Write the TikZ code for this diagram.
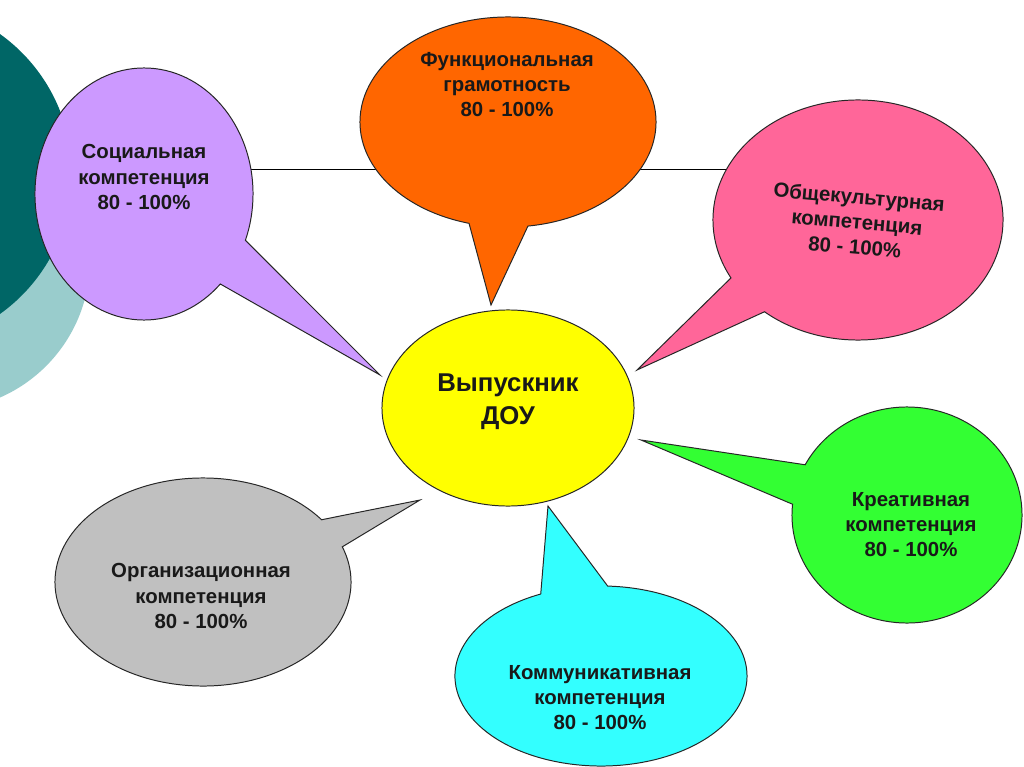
\documentclass[tikz,border=0pt]{standalone}
\usepackage{fontspec}
\setmainfont{Liberation Sans}
\usetikzlibrary{shapes.geometric,shapes.callouts,backgrounds}

\definecolor{tealdark}{HTML}{006666}
\definecolor{teallight}{HTML}{99CCCC}
\definecolor{lilac}{HTML}{CC99FF}
\definecolor{orangeb}{HTML}{FF6600}
\definecolor{pinkb}{HTML}{FF6699}
\definecolor{yellowb}{HTML}{FFFF00}
\definecolor{greenb}{HTML}{33FF33}
\definecolor{cyanb}{HTML}{33FFFF}
\definecolor{grayb}{HTML}{C0C0C0}

\begin{document}
\begin{tikzpicture}[x=0.025cm, y=-0.025cm, line width=0.7pt,
  balloon/.style={ellipse callout, draw=black!85, inner sep=0pt},
  lbl/.style={align=center, text=black!90, font=\bfseries\fontsize{14.5}{17.8}\selectfont}]

\useasboundingbox (0,0) rectangle (1024,767);

% Centre: the graduate
\node[ellipse, draw=black!85, fill=yellowb, inner sep=0pt,
      minimum width=6.3cm, minimum height=4.9cm] (vyp) at (508,408) {};
\node[lbl, font=\bfseries\fontsize{18.3}{23.5}\selectfont] (vyp-t) at (508,402) {Выпускник\\ДОУ};

% Pointer tips near the centre
\coordinate (p-soc) at (380,375);
\coordinate (p-fun) at (491,305);
\coordinate (p-obs) at (637,370);
\coordinate (p-kre) at (641,440);
\coordinate (p-kom) at (548,506);
\coordinate (p-org) at (420,500);

% Balloons
\node[balloon, fill=lilac, minimum width=5.45cm, minimum height=6.3cm,
      callout absolute pointer={(p-soc)}, callout pointer arc=24] (soc) at (144,194) {};
\node[balloon, fill=orangeb, minimum width=7.4cm, minimum height=5.25cm,
      callout absolute pointer={(p-fun)}, callout pointer arc=23] (fun) at (508,122) {};
\node[balloon, fill=pinkb, minimum width=7.25cm, minimum height=6cm,
      callout absolute pointer={(p-obs)}, callout pointer arc=21] (obs) at (858,220) {};
\node[balloon, fill=greenb, minimum width=5.75cm, minimum height=5.4cm,
      callout absolute pointer={(p-kre)}, callout pointer arc=22] (kre) at (907,515) {};
\node[balloon, fill=cyanb, minimum width=7.3cm, minimum height=4.5cm,
      callout absolute pointer={(p-kom)}, callout pointer arc=27] (kom) at (601,676) {};
\node[balloon, fill=grayb, minimum width=7.4cm, minimum height=5.2cm,
      callout absolute pointer={(p-org)}, callout pointer arc=17] (org) at (203,582) {};

% Texts
\node[lbl] (soc-t) at (144,177) {Социальная\\компетенция\\80 - 100\%};
\node[lbl] (fun-t) at (507,85) {Функциональная\\грамотность\\80 - 100\%};
\node[lbl, rotate=-5] (obs-t) at (857,222) {Общекультурная\\компетенция\\80 - 100\%};
\node[lbl] (kre-t) at (911,525) {Креативная\\компетенция\\80 - 100\%};
\node[lbl] (kom-t) at (600,698) {Коммуникативная\\компетенция\\80 - 100\%};
\node[lbl] (org-t) at (201,596) {Организационная\\компетенция\\80 - 100\%};

% Background: circles and the line behind the balloons
\begin{scope}[on background layer]
\fill[white] (0,0) rectangle (1024,767);
\clip (0,0) rectangle (1024,767);
\fill[teallight] (-60,260) circle[radius=150];
\fill[tealdark] (-100,174) circle[radius=172];
\draw (soc |- 0,169) -- (obs |- 0,169);
\end{scope}

\end{tikzpicture}
\end{document}
